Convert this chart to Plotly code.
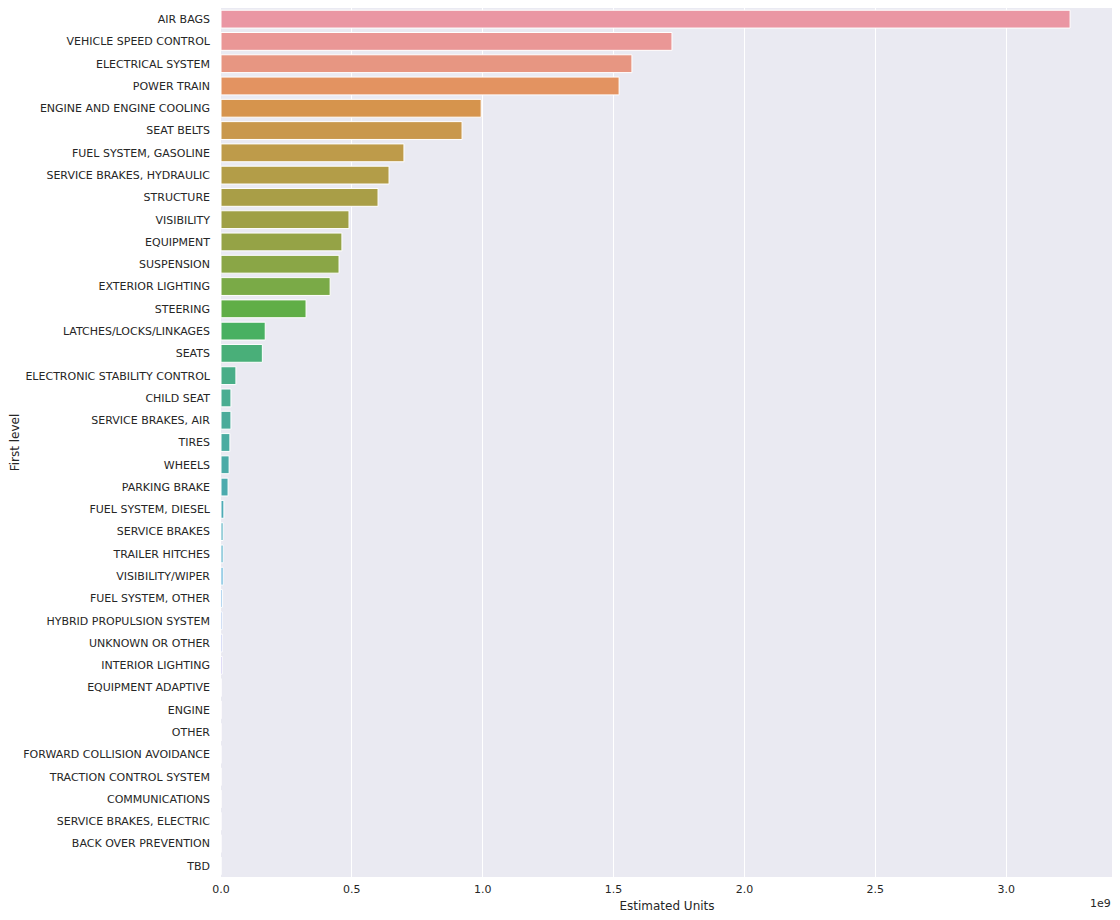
import math
import colorsys
import plotly.graph_objects as go

categories = [
    "AIR BAGS", "VEHICLE SPEED CONTROL", "ELECTRICAL SYSTEM", "POWER TRAIN",
    "ENGINE AND ENGINE COOLING", "SEAT BELTS", "FUEL SYSTEM, GASOLINE",
    "SERVICE BRAKES, HYDRAULIC", "STRUCTURE", "VISIBILITY", "EQUIPMENT",
    "SUSPENSION", "EXTERIOR LIGHTING", "STEERING", "LATCHES/LOCKS/LINKAGES",
    "SEATS", "ELECTRONIC STABILITY CONTROL", "CHILD SEAT", "SERVICE BRAKES, AIR",
    "TIRES", "WHEELS", "PARKING BRAKE", "FUEL SYSTEM, DIESEL", "SERVICE BRAKES",
    "TRAILER HITCHES", "VISIBILITY/WIPER", "FUEL SYSTEM, OTHER",
    "HYBRID PROPULSION SYSTEM", "UNKNOWN OR OTHER", "INTERIOR LIGHTING",
    "EQUIPMENT ADAPTIVE", "ENGINE", "OTHER", "FORWARD COLLISION AVOIDANCE",
    "TRACTION CONTROL SYSTEM", "COMMUNICATIONS", "SERVICE BRAKES, ELECTRIC",
    "BACK OVER PREVENTION", "TBD",
]

# estimated units, in billions
units_bn = [
    3.244, 1.723, 1.570, 1.521, 0.994, 0.921, 0.699, 0.642, 0.600, 0.489,
    0.462, 0.451, 0.417, 0.325, 0.169, 0.158, 0.057, 0.038, 0.038, 0.034,
    0.031, 0.027, 0.011, 0.008, 0.008, 0.008, 0.006, 0.005, 0.005, 0.005,
    0.0012, 0.0010, 0.0004, 0.0003, 0.0002, 0.0002, 0.0001, 0.0001, 0.00005,
]
units = [v * 1e9 for v in units_bn]

x_ticks = [0, 0.5e9, 1.0e9, 1.5e9, 2.0e9, 2.5e9, 3.0e9]
x_ticktext = ["0.0", "0.5", "1.0", "1.5", "2.0", "2.5", "3.0"]


# husl palette like seaborn's barplot (l=.7, then desaturated to .75)
M = [[3.2406, -1.5372, -0.4986],
     [-0.9689, 1.8758, 0.0415],
     [0.0557, -0.2040, 1.0570]]
REF_U, REF_V = 0.19784, 0.46834
LAB_E, LAB_K = 0.008856, 903.3


def max_chroma(L, H):
    hrad = math.radians(H)
    sinH, cosH = math.sin(hrad), math.cos(hrad)
    sub1 = (L + 16) ** 3 / 1560896.0
    sub2 = sub1 if sub1 > LAB_E else L / LAB_K
    result = float("inf")
    for m1, m2, m3 in M:
        top = (0.99915 * m1 + 1.05122 * m2 + 1.14460 * m3) * sub2
        rbottom = 0.86330 * m3 - 0.17266 * m2
        lbottom = 0.12949 * m3 - 0.38848 * m1
        bottom = (rbottom * sinH + lbottom * cosH) * sub2
        for t in (0.0, 1.0):
            c = L * (top - 1.05122 * t) / (bottom + 0.17266 * sinH * t)
            if 0 < c < result:
                result = c
    return result


def husl_to_rgb(H, S, L):
    C = max_chroma(L, H) / 100.0 * S
    U = C * math.cos(math.radians(H))
    V = C * math.sin(math.radians(H))
    t = (L + 16) / 116.0
    Y = t ** 3 if t ** 3 > LAB_E else (116 * t - 16) / LAB_K
    vu = U / (13 * L) + REF_U
    vv = V / (13 * L) + REF_V
    X = -(9 * Y * vu) / ((vu - 4) * vv - vu * vv)
    Z = (9 * Y - 15 * vv * Y - vv * X) / (3 * vv)
    out = []
    for r in M:
        c = r[0] * X + r[1] * Y + r[2] * Z
        c = 12.92 * c if c <= 0.0031308 else 1.055 * c ** (1 / 2.4) - 0.055
        out.append(min(max(c, 0), 1))
    return out


def palette(n):
    cols = []
    for i in range(n):
        h = ((i / n) + 0.01) % 1 * 359
        r, g, b = husl_to_rgb(h, 0.9 * 99, 0.7 * 99)
        hh, ll, ss = colorsys.rgb_to_hls(r, g, b)
        r, g, b = colorsys.hls_to_rgb(hh, ll, ss * 0.75)
        cols.append("rgb(%d,%d,%d)" % (round(r * 255), round(g * 255), round(b * 255)))
    return cols


fig = go.Figure(go.Bar(
    x=units, y=categories, orientation="h",
    marker=dict(color=palette(len(categories)), line=dict(color="white", width=1)),
    width=0.8,
))

font = "DejaVu Sans, sans-serif"
# page has an 8px body margin, so the figure is 8px smaller each way
fig.update_layout(
    width=1112, height=912,
    margin=dict(l=213, r=7, t=0, b=43),
    plot_bgcolor="#EAEAF2", paper_bgcolor="white",
    font=dict(family=font, size=11, color="#262626"),
    showlegend=False,
    bargap=0.2,
)
fig.update_xaxes(
    range=[0, 3.408e9], tickvals=x_ticks, ticktext=x_ticktext,
    showgrid=True, gridcolor="white", gridwidth=1, zeroline=False,
    showline=False, ticks="", ticklabelstandoff=4,
    title=dict(text="Estimated Units", font=dict(size=12), standoff=6),
)
fig.update_yaxes(
    autorange="reversed", showgrid=False, zeroline=False, showline=False,
    ticks="", ticklabelstandoff=10,
    title=dict(text="First level", font=dict(size=12), standoff=6),
)
fig.add_annotation(
    text="1e9", x=1.0, y=0, xref="paper", yref="paper",
    xanchor="right", yanchor="top", yshift=-18, showarrow=False,
    font=dict(size=11, color="#262626"),
)

fig.write_html("out.html")
